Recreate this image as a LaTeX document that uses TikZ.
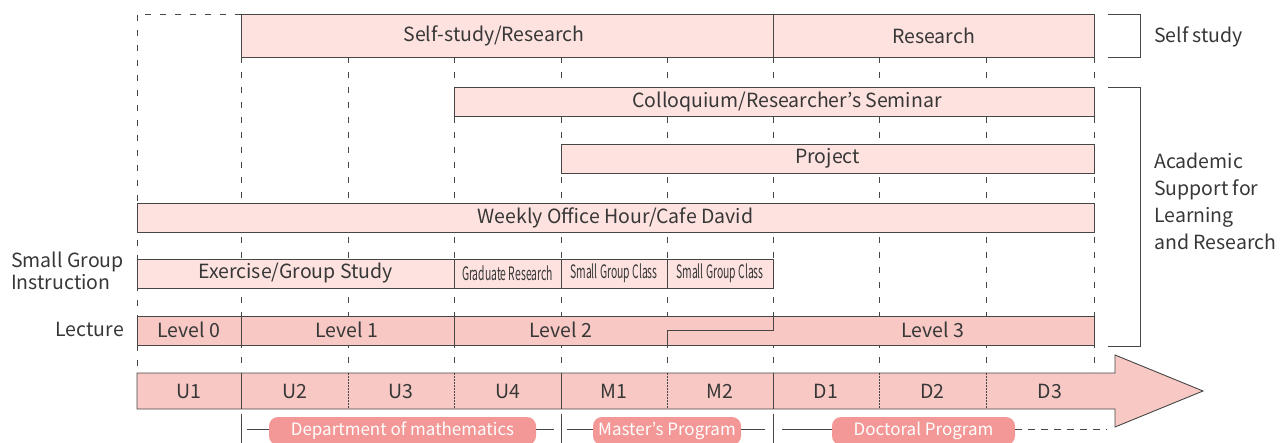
\documentclass[tikz,border=0pt]{standalone}
\usepackage{fontspec}
\setmainfont{Noto Sans CJK JP}
\usepackage{tikz}
\usetikzlibrary{positioning,calc}

\definecolor{barpink}{RGB}{253,226,223}
\definecolor{lecpink}{RGB}{248,201,196}
\definecolor{pillpink}{RGB}{243,152,150}
\definecolor{linegray}{RGB}{70,70,70}
\definecolor{textgray}{RGB}{55,55,55}

\tikzset{
  bar/.style={draw=linegray, fill=barpink, line width=0.9pt, anchor=north west,
    minimum height=29pt, inner sep=0pt, outer sep=0pt, text=textgray,
    font=\fontsize{19.5}{22}\selectfont},
  thinbar/.style={bar, font=\fontsize{18.5}{20}\selectfont},
  lbl/.style={text=textgray, inner sep=0pt, font=\fontsize{19.5}{22}\selectfont},
  pill/.style={fill=pillpink, rounded corners=9pt, text=white, minimum height=28pt,
    inner sep=0pt, font=\fontsize{17}{18}\selectfont},
  grid/.style={linegray, line width=0.9pt, dash pattern=on 6pt off 9pt},
  frame/.style={linegray, line width=0.9pt}
}

\begin{document}
\begin{tikzpicture}[x=1pt, y=-1pt]
    \useasboundingbox (0,0) rectangle (1281,443);
    \clip (0,0) rectangle (1281,443);

    % Year grid
    \draw[grid] (241,14) -- (137,14) -- (137,372);
    \foreach \x in {241,348,454,561,667,773,879,986,1094}
        \draw[grid] (\x,57) -- (\x,372);

    % Self study
    \node[bar, minimum width=532pt, minimum height=43pt] (selfres) at (241,14) {Self-study/Research\hspace*{26pt}};
    \node[bar, minimum width=321pt, minimum height=43pt] (research) at (773,14) {Research};

    % Academic support
    \node[bar, minimum width=640pt] (colloq) at (454,87) {\hspace*{26pt}Colloquium/Researcher's Seminar};
    \node[bar, minimum width=533pt] (project) at (561,144) {Project};
    \node[bar, minimum width=957pt] (weekly) at (137,203) {Weekly Office Hour/Cafe David};

    % Small group
    \node[bar, minimum width=317pt] (exercise) at (137,259) {Exercise/Group Study};
    \node[thinbar, minimum width=107pt] (gradres) at (454,259) {\scalebox{0.56}[1]{Graduate Research}};
    \node[thinbar, minimum width=106pt] (sgc1) at (561,259) {\scalebox{0.56}[1]{Small Group Class}};
    \node[thinbar, minimum width=106pt] (sgc2) at (667,259) {\scalebox{0.56}[1]{Small Group Class}};

    % Lecture
    \draw[frame, fill=lecpink] (137,316) rectangle (1094,345);
    \draw[frame] (241,316) -- (241,345);
    \draw[frame] (454,316) -- (454,345);
    \draw[frame] (773,316) -- (773,330) -- (667,330) -- (667,345);
    \node[lbl] (lv0) at (189,330) {Level 0};
    \node[lbl] (lv1) at (347,330) {Level 1};
    \node[lbl] (lv2) at (561,330) {Level 2};
    \node[lbl] (lv3) at (933,330) {Level 3};

    % Row labels
    \node[lbl, anchor=west, align=left] (sgi) at (11,271) {Small Group\\Instruction};
    \node[lbl, anchor=east] (lec) at (124,329) {Lecture};
    \node[lbl, anchor=west] (selfst) at (1154,37) {Self study};
    \node[lbl, anchor=west, align=left, font=\fontsize{19.5}{27}\selectfont] (acad) at (1154,201)
        {Academic\\Support for\\Learning\\and Research};
    \draw[frame] (1108,14) -- (1140,14) -- (1140,57) -- (1108,57);
    \draw[frame] (1108,87) -- (1140,87) -- (1140,346) -- (1108,346);

    % Timeline arrow
    \draw[frame, fill=lecpink] (137,373) -- (1115,373) -- (1115,355) -- (1203,391)
        -- (1115,427) -- (1115,409) -- (137,409) -- cycle;
    \foreach \x in {241,561,773}
        \draw[frame] (\x,373) -- (\x,409);
    \foreach \x in {348,454,667,879,986}
        \draw[linegray, line width=0.7pt, dash pattern=on 1.5pt off 1.5pt] (\x,373) -- (\x,409);
    \foreach \x/\t in {189/U1, 294.5/U2, 401/U3, 507.5/U4, 614/M1, 720/M2, 826/D1, 932.5/D2, 1050/D3}
        \node[lbl] (yr-\t) at (\x,391) {\t};

    % Programs
    \foreach \x in {241,561,773}
        \draw[frame] (\x,414) -- (\x,443);
    \node[pill, minimum width=267pt] (dept) at (402.5,431) {Department of mathematics};
    \node[pill, minimum width=148pt] (master) at (667,431) {Master's Program};
    \node[pill, minimum width=183pt] (doctor) at (923.5,431) {Doctoral Program};
    \coordinate (d1) at (247,429);
    \coordinate (d2) at (554,429);
    \coordinate (m1) at (567,429);
    \coordinate (m2) at (765,429);
    \coordinate (p1) at (782,429);
    \coordinate (p2) at (1107,429);
    \draw[frame] (d1) -- (d1 -| dept.west);
    \draw[frame] (d2 -| dept.east) -- (d2);
    \draw[frame] (m1) -- (m1 -| master.west);
    \draw[frame] (m2 -| master.east) -- (m2);
    \draw[frame] (p1) -- (p1 -| doctor.west);
    \draw[grid, dash pattern=on 7pt off 6pt] (p2 -| doctor.east) -- (p2);
\end{tikzpicture}
\end{document}
